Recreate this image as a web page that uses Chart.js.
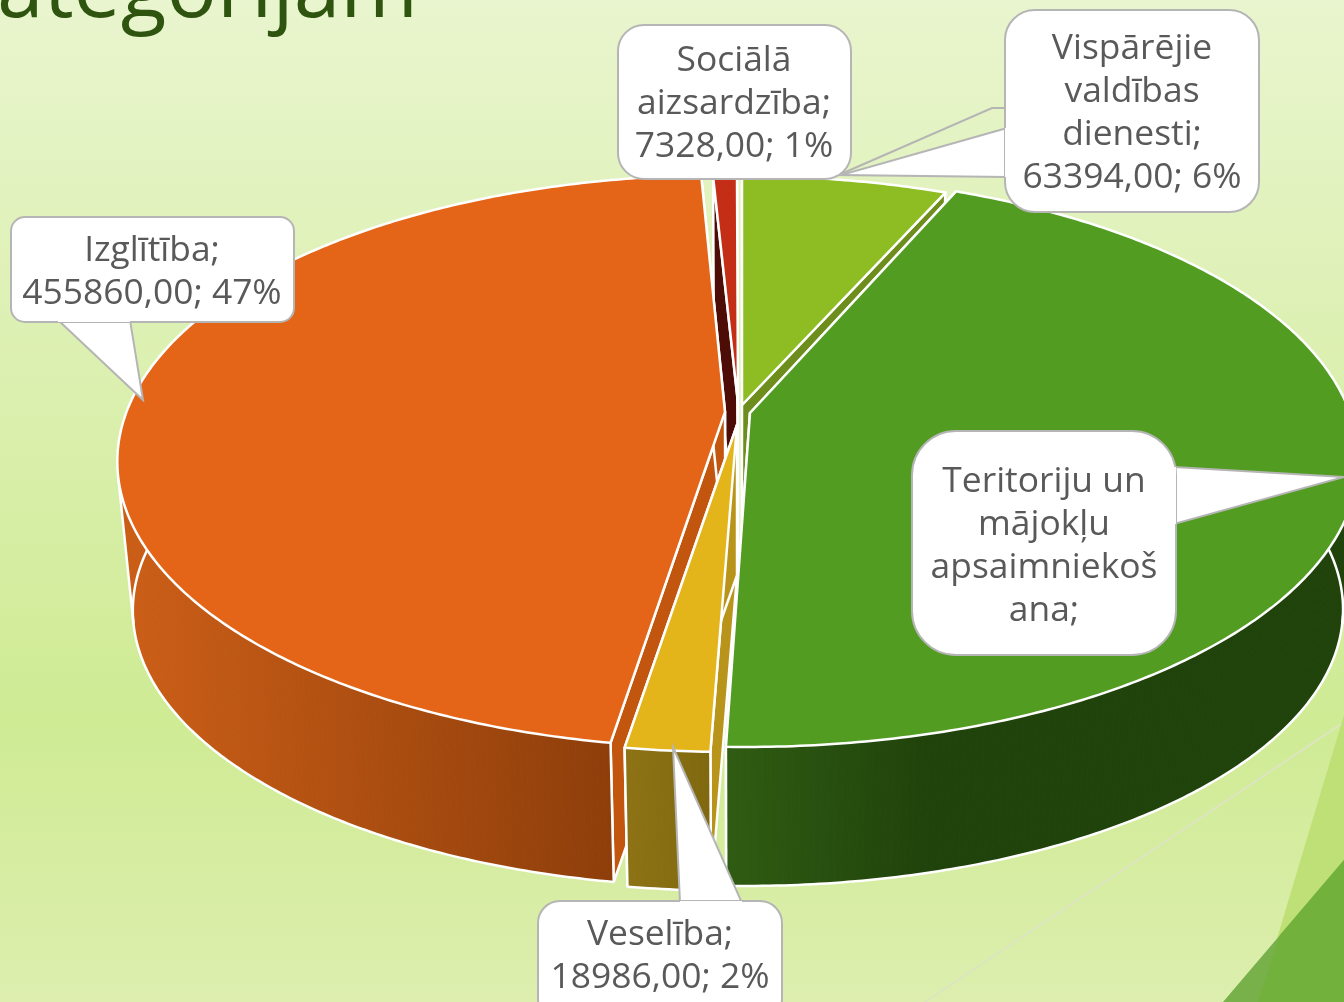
<!DOCTYPE html>
<html><head><meta charset="utf-8">
<style>html,body{margin:0;padding:0;width:1344px;height:1002px;overflow:hidden;background:#dff0b5}canvas{display:block}</style>
<script src="https://cdn.jsdelivr.net/npm/chart.js@4/dist/chart.umd.min.js"></script>
</head><body><canvas id="c" width="1344" height="1002"></canvas>
<script>
const categories=["Vispārējie valdības dienesti","Teritoriju un mājokļu apsaimniekošana","Veselība","Izglītība","Sociālā aizsardzība"];
const values=[63394,425000,18986,455860,7328];
const titleText="ategorijām";
const sliceColors=["#8dbd23","#529c21","#e3b51b","#e46517","#c42e17"];
const faceColors=["#6d8e1c","#3f7a18","#b8951a","#c2560f","#4e0c06"];
const wallColors=[null,["#2f5c12","#20420b"],["#8e7315","#7f680f"],["#cb5e17","#8e3e0b"],null];
const wallRange=[[740,950],[727,930],[625,712],[130,613],[716,738]];
const apex=[[742,405],[750,413],[737,425],[725,412],[738,403]];
const rimShift=[[4,-1],[8,-3],[-9,2],[-13,-2],[-1,0]];
const rimScaleX=[1,1.008,1,1,1];
const angleAdjust=[[0,0],[0.6,0.4],[0.3,0],[0.8,0],[0,0]];
const drawOrder=[4,0,3,1,2];
const callouts=[
 {lines:["Sociālā","aizsardzība;","7328,00; 1%"],box:[618,25,233,154],r:26,cx:734,y0:59,wedge:[]},
 {lines:["Vispārējie","valdības","dienesti;","63394,00; 6%"],box:[1005,10,254,202],r:30,cx:1132,y0:47,wedge:[[1007,128],[841,175],[1007,177]],leader:[[841,174],[992,108],[1007,108]]},
 {lines:["Izglītība;","455860,00; 47%"],box:[11,217,283,105],r:14,cx:152,y0:249,wedge:[[58,320],[143,400],[130,320]]},
 {lines:["Teritoriju un","mājokļu","apsaimniekoš","ana;"],box:[912,431,264,224],r:44,cx:1044,y0:480,wedge:[[1174,467],[1344,477],[1174,524]]},
 {lines:["Veselība;","18986,00; 2%"],box:[538,901,244,120],r:22,cx:660,y0:933,wedge:[[680,903],[673,747],[742,903]]}
];
const CX=738,CY=410,K=0.1867,RX=597,RY=276.5,LINE=43,DEG=Math.PI/180,EDGE=2.5;
function rim(t,s,sx){const c=Math.cos(t),w=1+K*c;return [CX+sx*RX*Math.sin(t)/w+s[0],CY-RY*c/w+s[1]];}
function low(p){return [738+0.975*(p[0]-738),610+0.965*(p[1]-461)];}
function poly(ctx,pts){ctx.beginPath();pts.forEach((p,i)=>i?ctx.lineTo(p[0],p[1]):ctx.moveTo(p[0],p[1]));ctx.closePath();}
function line(ctx,pts){ctx.beginPath();pts.forEach((p,i)=>i?ctx.lineTo(p[0],p[1]):ctx.moveTo(p[0],p[1]));ctx.strokeStyle="#fff";ctx.lineWidth=EDGE;ctx.lineJoin="round";ctx.stroke();}
function paint(ctx,pts,fill){poly(ctx,pts);ctx.fillStyle=fill;ctx.fill();ctx.strokeStyle="#fff";ctx.lineWidth=EDGE;ctx.lineJoin="round";ctx.stroke();}
const pie3d={id:"pie3d",
 beforeDraw(chart){const ctx=chart.ctx;
  const g=ctx.createLinearGradient(0,0,0,1002);
  g.addColorStop(0,"#e9f5ce");g.addColorStop(0.72,"#cfeb94");g.addColorStop(1,"#ddeeae");
  ctx.fillStyle=g;ctx.fillRect(0,0,1344,1002);
  ctx.strokeStyle="#dde5c0";ctx.lineWidth=2;ctx.beginPath();ctx.moveTo(1344,722);ctx.lineTo(925,1002);ctx.stroke();
  ctx.fillStyle="#bfe076";poly(ctx,[[1344,715],[1258,1002],[1344,1002]]);ctx.fill();
  ctx.fillStyle="#78b04a";poly(ctx,[[1344,860],[1223,1002],[1344,1002]]);ctx.fill();
  ctx.fillStyle="#73b13d";poly(ctx,[[1344,860],[1280,935],[1258,1002],[1344,1002]]);ctx.fill();
  ctx.fillStyle="#2f5410";ctx.font="84px 'Open Sans'";ctx.textAlign="left";ctx.textBaseline="alphabetic";
  ctx.fillText(titleText,-3,17);
 },
 beforeDatasetsDraw(chart){const ctx=chart.ctx,arcs=chart.getDatasetMeta(0).data;
  drawOrder.forEach(i=>{const a=arcs[i],t0=a.startAngle+Math.PI/2+angleAdjust[i][0]*DEG,t1=a.endAngle+Math.PI/2+angleAdjust[i][1]*DEG,s=rimShift[i],ap=apex[i];
   const top=[];const n=Math.max(2,Math.ceil((t1-t0)/0.01));
   for(let k=0;k<=n;k++)top.push(rim(t0+(t1-t0)*k/n,s,rimScaleX[i]));
   const first=top[0],last=top[top.length-1];
   paint(ctx,[ap,first,low(first),low(ap)],faceColors[i]);
   paint(ctx,[ap,last,low(last),low(ap)],faceColors[i]);
   if(wallColors[i]){
    const g=ctx.createLinearGradient(wallRange[i][0],0,wallRange[i][1],0);
    g.addColorStop(0,wallColors[i][0]);g.addColorStop(1,wallColors[i][1]);
    ctx.fillStyle=g;ctx.strokeStyle=g;ctx.lineWidth=1;
    for(let k=0;k<n;k++){poly(ctx,[top[k],top[k+1],low(top[k+1]),low(top[k])]);ctx.fill();ctx.stroke();}
    line(ctx,top.map(low));
    line(ctx,[first,low(first)]);line(ctx,[last,low(last)]);
    let prev=0;
    for(let k=1;k<n;k++){const tx=top[k+1][0]-top[k-1][0],ty=top[k+1][1]-top[k-1][1],l=low(top[k]),sx=l[0]-top[k][0],sy=l[1]-top[k][1],c=tx*sy-ty*sx;
     if(prev&&c*prev<0)line(ctx,[top[k],l]);prev=c;}
   }
   paint(ctx,[ap].concat(top),sliceColors[i]);
  });
  return false;
 },
 afterDraw(chart){const ctx=chart.ctx;
  callouts.forEach(c=>{
   ctx.strokeStyle="#b5b5b5";ctx.lineWidth=2;ctx.lineJoin="miter";
   if(c.leader){ctx.beginPath();c.leader.forEach((p,i)=>i?ctx.lineTo(p[0],p[1]):ctx.moveTo(p[0],p[1]));ctx.stroke();}
   const b=c.box;
   if(c.wedge.length){poly(ctx,c.wedge);ctx.fillStyle="#fff";ctx.fill();ctx.stroke();}
   ctx.beginPath();ctx.roundRect(b[0],b[1],b[2],b[3],c.r);ctx.fillStyle="#fff";ctx.fill();ctx.stroke();
   if(c.wedge.length){const w=c.wedge;ctx.beginPath();ctx.moveTo(w[0][0],w[0][1]);ctx.lineTo(w[2][0],w[2][1]);ctx.lineWidth=4;ctx.strokeStyle="#fff";ctx.stroke();}
   ctx.fillStyle="#595959";ctx.font="35.4px 'Open Sans'";ctx.textAlign="center";ctx.textBaseline="middle";
   c.lines.forEach((l,i)=>ctx.fillText(l,c.cx,c.y0+2+i*LINE));
  });
 }
};
new Chart(document.getElementById("c"),{type:"pie",
 data:{labels:categories,datasets:[{data:values,backgroundColor:sliceColors,borderColor:"#fff",borderWidth:2}]},
 options:{responsive:false,animation:false,rotation:0,plugins:{legend:{display:false},tooltip:{enabled:false}}},
 plugins:[pie3d]});
</script></body></html>
